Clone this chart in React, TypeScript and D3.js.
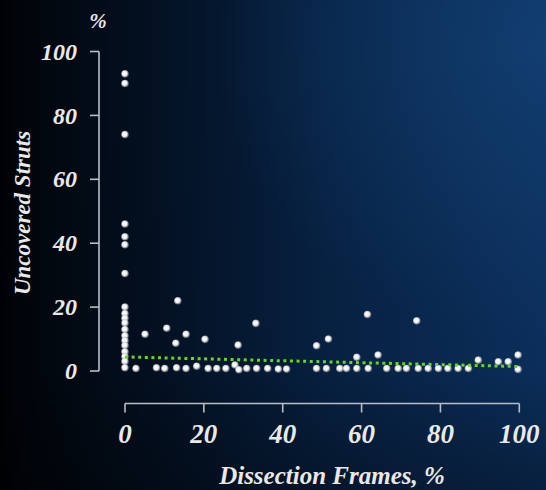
import React from "react";
import * as d3 from "d3";

// Column of patients at 0% dissection frames
const zeroColumnY = [93, 90, 74, 46, 42, 39.5, 30.5, 20, 18, 16.5, 15, 13, 11, 9.5, 8, 6, 4.5, 3, 1];

// Patients with uncovered struts clearly above zero
const raisedX = [5.1, 10.6, 13.4, 12.9, 15.5, 20.3, 28.7, 33.2, 48.6, 51.6, 58.8, 61.5, 64.2, 74.0, 89.6, 94.7, 97.2, 99.7];
const raisedY = [11.5, 13.4, 22.0, 8.7, 11.5, 9.9, 8.1, 14.9, 7.9, 10.0, 4.3, 17.7, 5.0, 15.7, 3.4, 2.9, 2.9, 5.0];

// Patients sitting near zero uncovered struts
const baseX = [2.8, 8.0, 10.1, 13.1, 15.5, 18.2, 21.1, 23.3, 25.6, 27.9, 28.9, 30.9, 33.4, 36.2, 38.9, 41.0, 48.6, 51.1, 54.5, 56.2, 58.8, 61.7, 66.4, 69.3, 71.4, 74.4, 76.9, 79.5, 81.9, 84.5, 87.1, 99.7];
const baseY = [0.8, 1.0, 0.8, 1.0, 0.8, 1.5, 0.8, 0.8, 0.8, 1.9, 0.4, 0.8, 0.8, 0.8, 0.6, 0.6, 0.8, 0.8, 0.8, 0.8, 0.8, 0.8, 0.8, 0.8, 0.8, 0.8, 0.8, 0.8, 0.8, 0.8, 0.8, 0.5];

// Linear trend endpoints (x, y)
const trendX = [0, 100];
const trendY = [4.4, 1.4];

const tickValues = [0, 20, 40, 60, 80, 100];
const tickLabels = ["0", "20", "40", "60", "80", "100"];

const W = 546;
const H = 490;

export default function App() {
  const x = d3.scaleLinear().domain([0, 100]).range([125, 519.3]);
  const y = d3.scaleLinear().domain([0, 100]).range([371, 51.5]);

  const points: [number, number][] = [
    ...zeroColumnY.map((v) => [0, v] as [number, number]),
    ...raisedX.map((v, i) => [v, raisedY[i]] as [number, number]),
    ...baseX.map((v, i) => [v, baseY[i]] as [number, number]),
  ];

  const trendLine = d3
    .line<number>()
    .x((d) => x(trendX[d]))
    .y((d) => y(trendY[d]))([0, 1]);

  const axisX = 99;
  const axisY = 403.5;
  const textStyle: React.CSSProperties = {
    fontFamily: "'Liberation Serif', 'DejaVu Serif', serif",
    fontWeight: "bold",
    fontStyle: "italic",
    fill: "#e9e9e9",
  };

  return (
    <svg
      width={W}
      height={H}
      style={{ position: "absolute", left: 0, top: 0, display: "block" }}
    >
      <defs>
        <linearGradient id="bgH" x1="0" y1="0" x2="1" y2="0">
          <stop offset="0" stopColor="#000104" />
          <stop offset="0.04" stopColor="#01050b" />
          <stop offset="0.25" stopColor="#030f1f" />
          <stop offset="0.6" stopColor="#072244" />
          <stop offset="1" stopColor="#0c3160" />
        </linearGradient>
        <linearGradient id="bgV" x1="0" y1="0" x2="0" y2="1">
          <stop offset="0" stopColor="#000000" stopOpacity="0" />
          <stop offset="0.75" stopColor="#000000" stopOpacity="0.05" />
          <stop offset="1" stopColor="#000000" stopOpacity="0.35" />
        </linearGradient>
        <radialGradient id="bgGlow" cx="1" cy="0.1" r="0.6">
          <stop offset="0" stopColor="#16487e" stopOpacity="0.55" />
          <stop offset="1" stopColor="#16487e" stopOpacity="0" />
        </radialGradient>
        <radialGradient id="dot" cx="0.45" cy="0.45" r="0.55">
          <stop offset="0" stopColor="#ffffff" />
          <stop offset="0.55" stopColor="#eeeeee" />
          <stop offset="1" stopColor="#8a9099" stopOpacity="0.6" />
        </radialGradient>
        <filter id="soft" x="-50%" y="-50%" width="200%" height="200%">
          <feGaussianBlur stdDeviation="0.5" />
        </filter>
      </defs>

      <rect x={0} y={0} width={W} height={H} fill="url(#bgH)" />
      <rect x={0} y={0} width={W} height={H} fill="url(#bgGlow)" />
      <rect x={0} y={0} width={W} height={H} fill="url(#bgV)" />

      {/* Y axis bracket */}
      <g stroke="#b9bec6" strokeWidth={1.6} fill="none" filter="url(#soft)">
        <line x1={axisX} x2={axisX} y1={y(100)} y2={y(0)} />
        {tickValues.map((t) => (
          <line key={t} x1={axisX - 9} x2={axisX} y1={y(t)} y2={y(t)} />
        ))}
      </g>
      {tickValues.map((t, i) => (
        <text
          key={t}
          x={77}
          y={y(t)}
          dy="0.34em"
          textAnchor="end"
          fontSize={24}
          style={textStyle}
        >
          {tickLabels[i]}
        </text>
      ))}
      <text x={98} y={28} textAnchor="middle" fontSize={21} style={textStyle}>
        %
      </text>
      <text
        transform={`translate(30, ${213}) rotate(-90)`}
        textAnchor="middle"
        fontSize={23}
        style={textStyle}
      >
        Uncovered Struts
      </text>

      {/* X axis bracket */}
      <g stroke="#b9bec6" strokeWidth={1.6} fill="none" filter="url(#soft)">
        <line x1={x(0)} x2={x(100)} y1={axisY} y2={axisY} />
        {tickValues.map((t) => (
          <line key={t} x1={x(t)} x2={x(t)} y1={axisY} y2={axisY + 9} />
        ))}
      </g>
      {tickValues.map((t, i) => (
        <text
          key={t}
          x={x(t)}
          y={443}
          textAnchor="middle"
          fontSize={27}
          style={textStyle}
        >
          {tickLabels[i]}
        </text>
      ))}
      <text x={332} y={484} textAnchor="middle" fontSize={25} style={textStyle}>
        Dissection Frames, %
      </text>

      {/* Points */}
      <g filter="url(#soft)">
        {points.map((p, i) => (
          <circle key={i} cx={x(p[0])} cy={y(p[1])} r={3.8} fill="url(#dot)" />
        ))}
      </g>

      {/* Trend line */}
      <path
        d={trendLine ?? ""}
        stroke="#62d62a"
        strokeWidth={3}
        strokeDasharray="3 3.6"
        fill="none"
      />
    </svg>
  );
}
